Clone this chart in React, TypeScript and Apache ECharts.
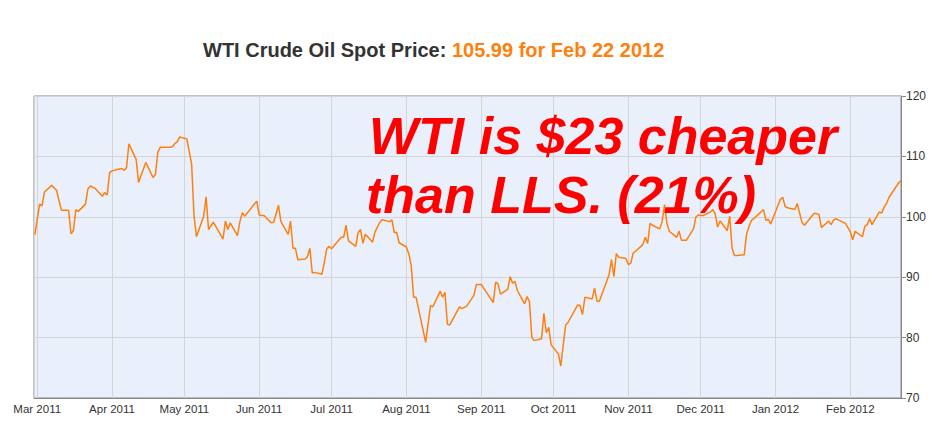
import React, { useEffect, useRef } from "react";
import * as echarts from "echarts";

const priceDates: string[] = [
  "2011-02-28","2011-03-02","2011-03-03","2011-03-04","2011-03-07","2011-03-09","2011-03-11","2011-03-14","2011-03-15","2011-03-16",
  "2011-03-17","2011-03-18","2011-03-21","2011-03-22","2011-03-23","2011-03-25","2011-03-28","2011-03-29","2011-03-30","2011-03-31",
  "2011-04-01","2011-04-04","2011-04-05","2011-04-06","2011-04-07","2011-04-08","2011-04-11","2011-04-12","2011-04-15","2011-04-18",
  "2011-04-19","2011-04-20","2011-04-21","2011-04-25","2011-04-26","2011-04-27","2011-04-28","2011-04-29","2011-05-02","2011-05-04",
  "2011-05-05","2011-05-06","2011-05-09","2011-05-10","2011-05-11","2011-05-13","2011-05-17","2011-05-18","2011-05-19","2011-05-20",
  "2011-05-23","2011-05-24","2011-05-25","2011-05-26","2011-05-31","2011-06-01","2011-06-02","2011-06-03","2011-06-06","2011-06-07",
  "2011-06-09","2011-06-10","2011-06-13","2011-06-14","2011-06-15","2011-06-16","2011-06-17","2011-06-20","2011-06-21","2011-06-22",
  "2011-06-23","2011-06-24","2011-06-27","2011-06-28","2011-06-29","2011-06-30","2011-07-01","2011-07-05","2011-07-06","2011-07-07",
  "2011-07-08","2011-07-11","2011-07-12","2011-07-13","2011-07-14","2011-07-15","2011-07-18","2011-07-19","2011-07-21","2011-07-22",
  "2011-07-25","2011-07-26","2011-07-27","2011-07-28","2011-07-29","2011-08-01","2011-08-02","2011-08-03","2011-08-04","2011-08-05",
  "2011-08-09","2011-08-11","2011-08-12","2011-08-15","2011-08-16","2011-08-17","2011-08-18","2011-08-19","2011-08-23","2011-08-24",
  "2011-08-26","2011-08-29","2011-08-30","2011-09-01","2011-09-06","2011-09-07","2011-09-08","2011-09-09","2011-09-12","2011-09-13",
  "2011-09-14","2011-09-15","2011-09-16","2011-09-19","2011-09-20","2011-09-21","2011-09-22","2011-09-23","2011-09-26","2011-09-27",
  "2011-09-28","2011-09-29","2011-09-30","2011-10-03","2011-10-04","2011-10-06","2011-10-07","2011-10-11","2011-10-12","2011-10-13",
  "2011-10-14","2011-10-17","2011-10-18","2011-10-19","2011-10-20","2011-10-24","2011-10-25","2011-10-26","2011-10-27","2011-10-28",
  "2011-10-31","2011-11-01","2011-11-02","2011-11-03","2011-11-04","2011-11-07","2011-11-08","2011-11-09","2011-11-10","2011-11-11",
  "2011-11-14","2011-11-15","2011-11-16","2011-11-17","2011-11-18","2011-11-21","2011-11-22","2011-11-23","2011-11-25","2011-11-28",
  "2011-11-29","2011-11-30","2011-12-01","2011-12-02","2011-12-05","2011-12-06","2011-12-07","2011-12-08","2011-12-09","2011-12-12",
  "2011-12-13","2011-12-14","2011-12-15","2011-12-16","2011-12-19","2011-12-20","2011-12-21","2011-12-22","2011-12-23","2011-12-27",
  "2011-12-28","2011-12-29","2011-12-30","2012-01-03","2012-01-04","2012-01-05","2012-01-06","2012-01-09","2012-01-10","2012-01-12",
  "2012-01-13","2012-01-17","2012-01-18","2012-01-19","2012-01-20","2012-01-23","2012-01-24","2012-01-25","2012-01-26","2012-01-27",
  "2012-01-30","2012-01-31","2012-02-01","2012-02-02","2012-02-03","2012-02-06","2012-02-07","2012-02-08","2012-02-09","2012-02-10",
  "2012-02-13","2012-02-14","2012-02-15","2012-02-16","2012-02-17","2012-02-21","2012-02-22",
];

const priceValues: number[] = [
  97.0, 102.1, 101.8, 104.1, 105.2, 104.4, 101.1, 101.1, 97.2, 97.7,
  101.2, 100.9, 102.1, 104.6, 105.1, 104.7, 103.4, 104.0, 103.6, 107.3,
  107.6, 107.9, 108.0, 107.7, 108.1, 112.1, 109.5, 105.7, 109.0, 106.5,
  107.0, 110.7, 111.5, 111.5, 111.6, 112.1, 112.4, 113.2, 112.9, 108.7,
  100.1, 96.7, 100.1, 103.3, 97.9, 99.1, 96.3, 99.3, 97.9, 99.0,
  96.9, 99.2, 100.7, 100.1, 102.6, 100.3, 100.2, 100.2, 99.0, 99.1,
  101.9, 99.2, 97.1, 99.3, 94.8, 94.8, 92.9, 93.0, 93.4, 94.8,
  90.7, 90.8, 90.5, 92.5, 94.7, 95.1, 94.7, 96.6, 96.6, 98.6,
  96.0, 95.1, 97.4, 97.9, 95.6, 97.1, 95.8, 97.5, 99.1, 99.5,
  99.2, 99.5, 97.4, 97.4, 95.7, 95.0, 93.9, 91.9, 86.7, 86.7,
  79.2, 85.3, 85.1, 87.7, 86.7, 87.5, 82.2, 82.1, 85.1, 84.8,
  85.2, 87.0, 88.8, 88.8, 85.8, 89.2, 88.9, 87.2, 88.0, 90.1,
  89.0, 89.3, 87.8, 85.6, 86.8, 86.0, 80.0, 79.5, 79.8, 84.0,
  80.8, 81.7, 78.8, 77.3, 75.3, 82.1, 82.5, 85.4, 85.3, 83.8,
  86.7, 86.4, 88.2, 86.0, 86.0, 90.4, 92.9, 90.1, 93.9, 93.3,
  93.1, 92.1, 92.3, 94.0, 94.3, 95.4, 96.6, 95.6, 98.9, 98.6,
  98.0, 99.2, 102.0, 98.9, 97.6, 96.6, 97.6, 96.1, 96.1, 98.0,
  100.0, 100.3, 100.2, 100.2, 100.8, 101.2, 100.5, 98.3, 99.3, 97.7,
  100.1, 94.8, 93.6, 93.6, 93.7, 97.1, 98.4, 99.4, 99.7, 101.2,
  99.4, 99.6, 98.8, 102.9, 103.2, 101.7, 101.5, 101.2, 102.2, 99.0,
  98.6, 100.6, 100.5, 100.4, 98.2, 99.3, 98.7, 99.4, 99.7, 99.5,
  98.9, 98.2, 97.5, 96.2, 97.6, 96.7, 98.4, 98.7, 99.7, 98.7,
  100.8, 100.6, 101.6, 102.2, 103.2, 105.6, 105.99,
];

const yTicks = { min: 70, max: 120, interval: 10 };
const monthNames = ["Jan","Feb","Mar","Apr","May","Jun","Jul","Aug","Sep","Oct","Nov","Dec"];
const titleLabel = "WTI Crude Oil Spot Price: ";
const noteLines = ["WTI is $23 cheaper", "than LLS. (21%)"];

export default function App() {
  const ref = useRef<HTMLDivElement>(null);
  useEffect(() => {
    if (!ref.current) return;
    const chart = echarts.init(ref.current, null, { renderer: "svg" });
    const lastIdx = priceValues.length - 1;
    const lastDate = new Date(priceDates[lastIdx] + "T00:00:00");
    const lastText = `${priceValues[lastIdx].toFixed(2)} for ${monthNames[lastDate.getMonth()]} ${lastDate.getDate()} ${lastDate.getFullYear()}`;
    const seriesData = priceDates.map((d, i) => [d, priceValues[i]]);
    const xMin = new Date(2011, 1, 27, 16).getTime();
    const xMax = new Date(2012, 1, 22, 0).getTime();
    const font = "'Liberation Sans', Arial, Helvetica, sans-serif";
    chart.setOption({
      animation: false,
      backgroundColor: "#ffffff",
      title: {
        text: `{a|${titleLabel}}{b|${lastText}}`,
        left: 198,
        top: 35,
        textStyle: {
          rich: {
            a: { fontFamily: font, fontSize: 20, fontWeight: "bold", color: "#333333" },
            b: { fontFamily: font, fontSize: 20, fontWeight: "bold", color: "#FF7F0E" },
          },
        },
      },
      grid: {
        left: 34,
        right: 41,
        top: 96,
        bottom: 27,
        show: true,
        backgroundColor: "#EAF0FB",
        borderColor: "#888888",
        borderWidth: 1,
      },
      xAxis: {
        type: "time",
        min: xMin,
        max: xMax,
        splitNumber: 12,
        minInterval: 28 * 86400000,
        maxInterval: 31 * 86400000,
        axisLine: { show: true, lineStyle: { color: "#888888" } },
        axisTick: { show: false },
        splitLine: { show: true, lineStyle: { color: "#D4D4D4", width: 1 } },
        axisLabel: {
          fontFamily: font,
          fontSize: 11.5,
          color: "#333333",
          margin: 5,
          hideOverlap: false,
          formatter: (v: number) => {
            const d = new Date(v);
            return `${monthNames[d.getMonth()]} ${d.getFullYear()}`;
          },
        },
      },
      yAxis: {
        type: "value",
        position: "right",
        min: yTicks.min,
        max: yTicks.max,
        interval: yTicks.interval,
        axisLine: { show: true, lineStyle: { color: "#888888" } },
        axisTick: { show: true, length: 5, lineStyle: { color: "#888888" } },
        splitLine: { show: true, lineStyle: { color: "#D4D4D4", width: 1 } },
        axisLabel: { fontFamily: font, fontSize: 12, color: "#333333", margin: 5 },
      },
      series: [
        {
          type: "line",
          data: seriesData,
          showSymbol: false,
          symbol: "none",
          lineStyle: { color: "#FF7F0E", width: 1.5 },
          z: 2,
        },
      ],
      graphic: [
        {
          type: "text",
          left: 369,
          top: 110,
          z: 100,
          style: {
            text: noteLines[0],
            fill: "#FF0000",
            font: `italic bold 52px 'Comic Sans MS', ${font}`,
          },
        },
        {
          type: "text",
          left: 366,
          top: 169,
          z: 100,
          style: {
            text: noteLines[1],
            fill: "#FF0000",
            font: `italic bold 52px 'Comic Sans MS', ${font}`,
          },
        },
      ],
    });
    return () => chart.dispose();
  }, []);
  return (
    <div
      ref={ref}
      style={{ position: "absolute", left: 0, top: 0, width: 942, height: 425 }}
    />
  );
}
